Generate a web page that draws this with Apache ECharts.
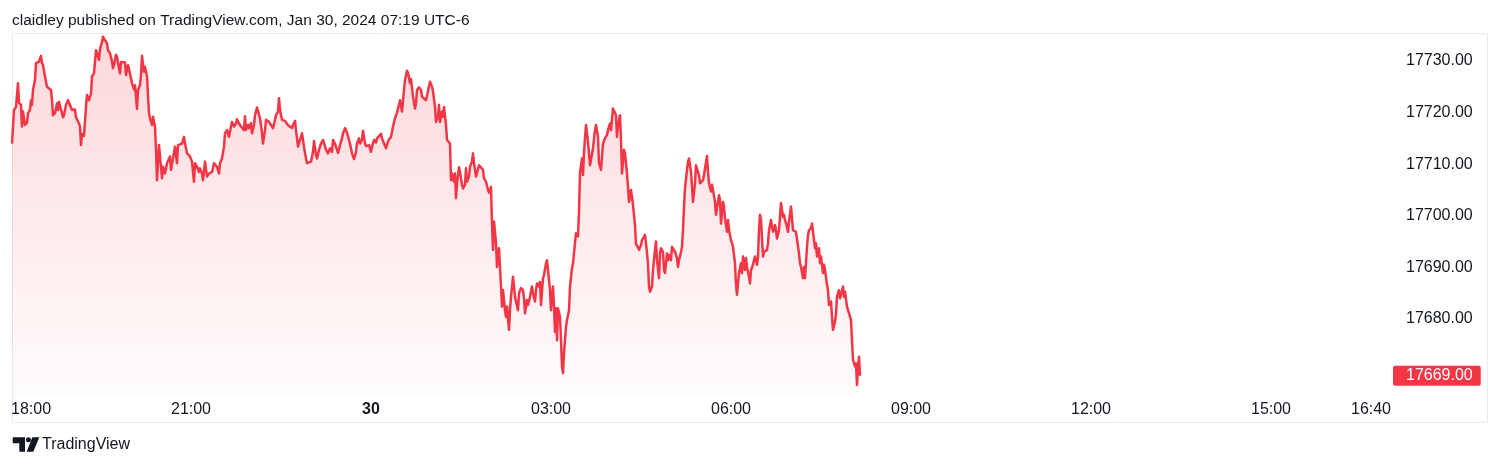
<!DOCTYPE html>
<html>
<head>
<meta charset="utf-8">
<script src="https://cdn.jsdelivr.net/npm/echarts@6/dist/echarts.min.js"></script>
<style>
  html, body { margin: 0; padding: 0; background: #ffffff; }
  #chart { width: 1500px; height: 466px; }
</style>
</head>
<body>
<div id="chart"></div>
<script>
// ---- data (minutes after 18:00 on Jan 29, price) ----
const minutes = [
1,3,5,7,8,10,11,12,14,16,17,19,20,21,22,24,25,27,28,30,31,32,34,36,38,40,41,42,44,46,47,48,50,52,53,55,57,59,61,62,64,65,67,68,69,70,71,73,75,76,78,80,81,83,85,86,88,89,91,92,94,96,97,99,
101,102,103,105,106,108,109,110,112,114,115,117,118,120,121,123,124,126,127,129,130,131,133,134,136,138,139,141,142,144,145,146,148,149,151,152,154,156,157,159,160,162,164,166,167,169,171,173,174,176,178,179,181,183,184,186,188,189,191,192,194,196,198,200,
201,203,205,206,208,209,211,213,214,216,218,220,221,223,225,226,228,230,232,233,234,235,237,238,240,241,243,244,246,248,249,251,252,254,255,257,258,260,262,264,265,267,268,269,271,273,274,276,278,279,281,282,284,285,287,289,291,293,294,296,298,300,
302,303,305,306,308,310,312,314,315,317,319,321,322,324,326,327,329,331,332,334,336,337,339,341,342,343,345,346,348,349,351,352,354,355,357,358,360,361,363,365,366,368,370,371,373,375,377,378,380,382,383,384,386,388,389,391,393,394,396,397,399,400,
402,404,405,406,408,410,411,413,415,417,419,421,422,424,425,427,428,429,431,432,433,435,436,437,439,440,441,443,444,445,446,448,449,451,452,454,455,456,458,459,461,462,463,465,467,468,470,472,473,475,477,478,480,481,482,483,485,486,488,489,490,491,492,494,495,496,498,499,500,
502,504,505,507,508,510,512,513,514,516,517,519,521,522,524,525,526,528,529,530,532,533,535,536,538,539,540,542,543,544,545,546,547,549,550,551,552,553,555,556,558,559,561,562,564,565,567,568,569,571,572,573,575,576,577,579,580,582,584,585,587,588,590,591,592,594,596,597,599,600,
602,603,605,606,607,609,610,611,613,614,616,617,618,620,621,622,624,625,627,628,630,631,633,634,635,637,638,639,641,642,644,645,646,648,649,650,652,653,654,656,657,658,660,661,663,664,666,667,668,670,671,672,673,674,676,677,678,680,681,682,684,685,686,688,689,690,692,693,694,696,697,698,700,
701,702,704,705,706,708,709,710,712,713,714,716,717,718,720,721,722,724,725,726,727,728,730,731,732,734,735,736,738,739,740,742,743,744,746,747,748,749,750,752,753,754,756,757,758,760,761,762,764,765,766,768,769,770,772,773,774,776,777,778,780,781,782,784,785,786,788,789,790,792,793,794,796,797,798,800,
801,802,804,805,806,808,809,810,812,813,814,816,817,818,820,821,822,824,825,826,828,829,830,832,833,834,836,837,838,840,841,842,844,845,846,847,848,849
];
const prices = [
17714.0,17720.5,17721.1,17725.7,17721.9,17721.5,17717.3,17720.2,17717.6,17718.0,17719.9,17720.5,17722.4,17721.5,17724.4,17726.3,17729.6,17729.6,17729.9,17731.0,17729.6,17729.2,17727.0,17725.0,17725.0,17724.4,17722.4,17719.5,17719.9,17721.8,17720.5,17722.1,17721.8,17719.1,17719.5,17721.5,17722.4,17722.1,17720.5,17720.2,17720.6,17719.1,17719.1,17717.9,17717.3,17713.7,17715.9,17715.5,17721.1,17723.4,17722.4,17723.7,17727.0,17727.6,17732.1,17732.1,17730.2,17732.3,17733.7,17734.7,17734.8,17733.4,17732.1,17731.5,
17729.9,17728.6,17729.2,17731.2,17730.8,17728.6,17727.6,17729.8,17729.6,17729.7,17727.3,17729.2,17729.2,17726.6,17725.7,17724.5,17725.3,17720.7,17724.4,17725.3,17727.3,17731.0,17727.9,17728.9,17727.0,17719.9,17718.9,17717.6,17719.2,17717.3,17712.8,17706.9,17713.7,17713.7,17707.3,17709.5,17708.2,17710.2,17710.5,17711.5,17708.9,17711.1,17713.4,17710.2,17713.7,17713.7,17714.0,17715.3,17714.0,17712.1,17712.1,17711.5,17710.5,17706.6,17710.2,17709.5,17708.5,17709.2,17708.2,17706.9,17710.5,17707.6,17708.2,17707.9,
17708.5,17710.2,17710.5,17709.5,17708.2,17710.2,17711.1,17713.4,17716.0,17716.6,17715.3,17717.3,17718.2,17717.3,17717.9,17718.7,17717.9,17717.3,17717.6,17716.6,17719.3,17716.6,17717.6,17717.0,17718.0,17716.0,17717.6,17719.5,17721.0,17721.1,17718.9,17716.0,17714.0,17716.6,17718.6,17718.9,17718.2,17717.9,17717.0,17718.6,17719.5,17720.2,17722.8,17720.5,17718.6,17718.9,17718.4,17717.8,17717.4,17717.6,17717.0,17717.6,17718.4,17716.6,17713.4,17713.7,17716.0,17713.4,17712.1,17710.2,17710.2,17710.5,
17712.4,17714.5,17711.8,17711.1,17712.8,17714.0,17714.7,17714.5,17712.8,17712.1,17713.1,17712.4,17714.7,17714.0,17713.7,17712.2,17713.7,17715.0,17716.0,17717.0,17716.1,17716.0,17714.0,17712.1,17711.8,17711.0,17712.4,17714.0,17715.0,17714.0,17714.7,17716.5,17714.0,17713.5,17713.3,17713.7,17712.4,17713.4,17714.7,17714.2,17715.0,17714.7,17715.9,17715.0,17715.3,17713.1,17714.4,17714.8,17715.3,17717.3,17717.6,17718.9,17720.0,17721.5,17722.4,17720.2,17724.4,17726.3,17728.1,17727.7,17725.7,17726.5,
17723.1,17720.8,17721.8,17724.4,17724.9,17724.4,17723.1,17722.8,17722.4,17722.1,17726.0,17725.0,17724.1,17721.1,17718.2,17719.2,17721.5,17718.2,17720.2,17719.2,17721.1,17717.6,17714.7,17714.4,17714.0,17706.9,17708.2,17706.6,17708.2,17703.4,17706.3,17709.4,17708.5,17706.0,17705.3,17706.0,17709.2,17706.6,17707.6,17709.5,17710.5,17712.1,17710.2,17707.6,17707.9,17709.8,17709.8,17708.9,17707.3,17706.6,17705.0,17704.5,17705.6,17698.5,17693.4,17698.9,17694.7,17690.1,17693.7,17690.1,17686.3,17682.4,17685.6,17681.7,17680.4,17682.4,17677.9,17681.7,17684.3,
17688.2,17684.3,17683.4,17681.7,17685.0,17686.0,17685.6,17684.0,17681.1,17683.7,17682.7,17684.3,17686.3,17685.0,17683.4,17685.6,17686.9,17686.3,17687.2,17682.7,17687.9,17688.5,17690.8,17691.4,17691.1,17685.6,17681.7,17686.3,17682.4,17677.5,17682.1,17675.9,17682.1,17680.4,17675.9,17670.8,17669.5,17673.4,17678.5,17679.8,17681.7,17686.3,17689.8,17690.8,17694.7,17696.6,17696.0,17700.8,17708.2,17711.1,17707.9,17712.4,17717.6,17717.3,17714.4,17709.8,17709.5,17713.1,17716.6,17717.6,17715.3,17710.2,17708.9,17708.9,17714.0,17715.0,17715.7,17716.6,17717.9,17716.6,
17720.8,17721.1,17719.5,17715.3,17717.3,17719.5,17714.7,17708.2,17712.8,17712.1,17708.2,17705.6,17702.7,17705.0,17705.3,17702.1,17698.2,17694.5,17693.9,17693.4,17694.3,17695.3,17695.6,17696.3,17694.7,17690.8,17686.3,17685.3,17686.3,17689.5,17693.4,17695.0,17691.4,17687.9,17692.7,17693.7,17693.0,17689.5,17688.9,17692.7,17691.4,17692.4,17691.4,17694.0,17693.7,17693.0,17691.8,17690.1,17691.4,17693.0,17694.0,17697.2,17701.8,17705.3,17708.9,17710.5,17711.1,17708.5,17708.2,17702.7,17706.3,17709.8,17709.5,17707.9,17706.3,17706.6,17706.9,17707.9,17708.2,17711.6,17708.5,17706.3,17704.7,
17706.0,17705.0,17702.7,17700.2,17700.5,17704.0,17703.1,17698.5,17702.7,17701.8,17699.5,17696.9,17699.2,17697.2,17695.3,17694.7,17694.0,17690.8,17686.6,17684.7,17686.9,17688.9,17690.8,17688.9,17692.1,17689.5,17691.8,17690.1,17688.2,17686.9,17689.5,17690.5,17691.4,17692.1,17690.5,17692.1,17697.2,17700.2,17699.2,17692.1,17693.0,17693.0,17693.4,17694.7,17697.2,17699.2,17697.9,17696.9,17698.2,17697.2,17695.6,17697.2,17699.8,17702.5,17699.8,17700.2,17699.2,17697.9,17696.9,17698.9,17701.8,17701.5,17697.2,17696.9,17696.9,17696.6,17692.7,17690.8,17690.1,17687.9,17690.1,17687.9,17694.0,17696.3,17697.2,17697.6,
17698.5,17696.9,17693.7,17694.7,17692.1,17693.7,17690.8,17692.1,17688.9,17690.5,17689.5,17686.6,17685.6,17682.7,17683.4,17680.4,17677.9,17679.5,17681.1,17684.3,17685.6,17684.0,17684.7,17686.3,17684.3,17685.3,17682.4,17682.1,17682.1,17679.8,17675.9,17672.1,17670.8,17671.4,17667.2,17670.8,17672.7,17669.0
];
const lastPrice = 17669.0;

// ---- axis ticks / labels ----
const priceTicks = [17680, 17690, 17700, 17710, 17720, 17730];
const timeTicks  = [0, 180, 360, 540, 720, 900, 1080, 1260, 1360];
const timeLabels = ['18:00', '21:00', '30', '03:00', '06:00', '09:00', '12:00', '15:00', '16:40'];
const boldTimeLabels = ['30'];
const titleText = 'claidley published on TradingView.com, Jan 30, 2024 07:19 UTC-6';
const brandText = 'TradingView';

const FONT = '"Liberation Sans", Arial, sans-serif';
const RED = '#F23645';
const TEXT = '#131722';

const data = minutes.map((m, i) => [m, prices[i]]);

const chart = echarts.init(document.getElementById('chart'), null, { renderer: 'canvas' });
chart.setOption({
  animation: false,
  backgroundColor: '#ffffff',
  textStyle: { fontFamily: FONT },
  title: {
    text: titleText, left: 12, top: 13, padding: 0,
    textStyle: { fontSize: 15.5, fontWeight: 'normal', color: TEXT, fontFamily: FONT }
  },
  grid: { left: 11, right: 109, top: 33, bottom: 71, containLabel: false },
  xAxis: {
    type: 'value', min: 0, max: 1380,
    axisLine: { show: false }, axisTick: { show: false }, splitLine: { show: false },
    axisLabel: {
      customValues: timeTicks,
      alignMinLabel: 'left',
      margin: 7,
      fontSize: 16, color: TEXT, fontFamily: FONT,
      formatter: function (v) {
        const i = timeTicks.indexOf(Math.round(v));
        const s = i >= 0 ? timeLabels[i] : '';
        return boldTimeLabels.indexOf(s) >= 0 ? '{b|' + s + '}' : s;
      },
      rich: { b: { fontWeight: 'bold', fontSize: 16, color: TEXT, fontFamily: FONT } }
    }
  },
  yAxis: {
    type: 'value', position: 'right', min: 17665.27, max: 17735.43, scale: true,
    axisLine: { show: false }, axisTick: { show: false }, splitLine: { show: false },
    axisLabel: {
      customValues: priceTicks,
      margin: 15, fontSize: 16, color: TEXT, fontFamily: FONT,
      padding: [3, 0, 0, 0],
      formatter: v => Number(v).toFixed(2)
    }
  },
  series: [{
    type: 'line',
    data: data,
    showSymbol: false,
    symbol: 'none',
    sampling: null,
    lineStyle: { color: RED, width: 2.5, join: 'round' },
    itemStyle: { color: RED },
    areaStyle: {
      origin: 'start',
      color: new echarts.graphic.LinearGradient(0, 0, 0, 1, [
        { offset: 0, color: 'rgba(242, 54, 69, 0.28)' },
        { offset: 1, color: 'rgba(242, 54, 69, 0.02)' }
      ])
    },
    markLine: {
      silent: true, symbol: 'none', animation: false,
      lineStyle: { color: 'rgba(0,0,0,0)', width: 0 },
      label: {
        show: true, position: 'end', distance: 2,
        formatter: lastPrice.toFixed(2),
        color: '#ffffff', backgroundColor: RED, borderRadius: 2,
        padding: [3, 8, 1, 13], fontSize: 16, fontFamily: FONT
      },
      data: [{ yAxis: lastPrice }]
    }
  }],
  graphic: [
    { type: 'rect', silent: true, z: 0,
      shape: { x: 12.5, y: 33.5, width: 1475, height: 389 },
      style: { fill: 'none', stroke: '#E9EBF1', lineWidth: 1 } },
    { type: 'polygon', silent: true,
      shape: { points: [[12.7, 437.3], [25, 437.3], [25, 451.7], [19.3, 451.7], [19.3, 443.3], [12.7, 443.3]] },
      style: { fill: TEXT } },
    { type: 'circle', silent: true,
      shape: { cx: 28.4, cy: 439.8, r: 2.5 },
      style: { fill: TEXT } },
    { type: 'polygon', silent: true,
      shape: { points: [[32.3, 437.3], [39.3, 437.3], [33.3, 451.7], [26.7, 451.7]] },
      style: { fill: TEXT } },
    { type: 'text', silent: true,
      style: { text: brandText, x: 42, y: 445, fill: TEXT, fontSize: 16, fontFamily: FONT, verticalAlign: 'middle', align: 'left' } }
  ]
});
</script>
</body>
</html>
